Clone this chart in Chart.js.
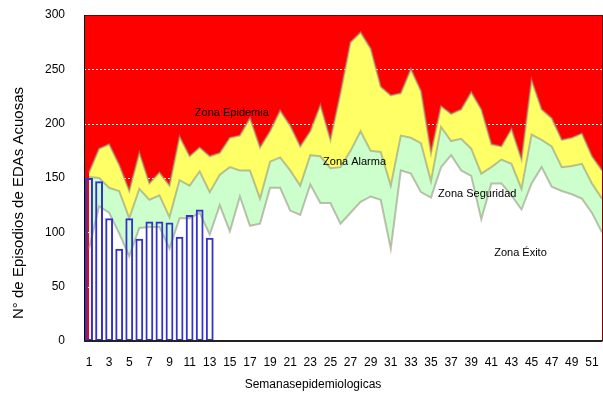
<!DOCTYPE html>
<html>
<head>
<meta charset="utf-8">
<script src="https://cdn.jsdelivr.net/npm/chart.js@4.4.0/dist/chart.umd.min.js"></script>
<style>
  html, body { margin: 0; padding: 0; background: #fff; overflow: hidden; }
  #wrap { width: 603px; height: 400px; overflow: hidden; }
  #inner { width: 607px; height: 400px; }
</style>
</head>
<body>
<div id="wrap"><div id="inner"><canvas id="myChart"></canvas></div></div>
<script>
// semanas epidemiologicas
const weeks = ['1', '2', '3', '4', '5', '6', '7', '8', '9', '10', '11', '12', '13',
  '14', '15', '16', '17', '18', '19', '20', '21', '22', '23', '24', '25', '26',
  '27', '28', '29', '30', '31', '32', '33', '34', '35', '36', '37', '38', '39',
  '40', '41', '42', '43', '44', '45', '46', '47', '48', '49', '50', '51', '52'];

// casos de la semana (barras)
const cases = [150, 147, 113, 85, 113, 94, 110, 110, 109, 96, 116, 121, 95];

// limites del canal endemico
const successLine = [85, 124, 118, 99, 78, 104, 105, 105, 85, 113, 113, 118, 98,
  125, 101, 133, 106, 108, 141, 141, 120, 116, 144, 127, 127, 108,
  118, 128, 133, 130, 85, 157, 154, 137, 132, 160, 171, 157, 152,
  112, 145, 145, 134, 121, 145, 160, 142, 138, 135, 131, 118, 100];
const securityLine = [151, 150, 141, 138, 113, 140, 130, 134, 114, 148, 143, 156, 137,
  153, 160, 157, 157, 131, 165, 169, 157, 143, 171, 170, 159, 160,
  175, 193, 175, 174, 143, 189, 187, 182, 147, 197, 184, 186, 177,
  154, 160, 167, 163, 140, 190, 185, 179, 160, 161, 163, 145, 131];
const alarmLine = [155, 177, 181, 162, 138, 173, 145, 155, 143, 188, 170, 178, 170,
  173, 187, 189, 205, 178, 193, 212, 198, 179, 193, 217, 185, 228,
  275, 284, 269, 234, 226, 228, 250, 230, 173, 216, 209, 213, 229,
  213, 181, 179, 195, 167, 240, 213, 205, 185, 187, 191, 170, 157];

const yTicks = [0, 50, 100, 150, 200, 250, 300];

const zoneNames = ['Zona Epidemia', 'Zona Alarma', 'Zona Seguridad', 'Zona Éxito'];
const zoneWeeks = [14.2, 26.4, 38.6, 42.9];
const zoneValues = [210, 165, 135, 81];

const FONT = "'Liberation Sans', Arial, sans-serif";
const VISIBLE_W = 603; // ancho de la ventana; el area de trazado sigue un poco mas alla

const canalPlugin = {
  id: 'canal',
  beforeDraw(chart) {
    const { ctx, chartArea: a } = chart;
    ctx.save();
    ctx.fillStyle = '#ff0000';
    ctx.fillRect(a.left, a.top, a.right - a.left, a.bottom - a.top);
    ctx.restore();
  },
  beforeDatasetsDraw(chart) {
    const { ctx, chartArea: a, scales: { y } } = chart;
    ctx.save();
    ctx.strokeStyle = '#ffffff';
    ctx.lineWidth = 1;
    ctx.setLineDash([2, 2]);
    yTicks.forEach(t => {
      const py = Math.round(y.getPixelForValue(t)) + 0.5;
      ctx.beginPath();
      ctx.moveTo(a.left, py);
      ctx.lineTo(a.right, py);
      ctx.stroke();
    });
    ctx.restore();
  },
  afterDatasetsDraw(chart) {
    const { ctx, chartArea: a, scales: { x, y } } = chart;
    const right = Math.min(a.right, VISIBLE_W) - 0.5;
    ctx.save();
    // marco
    ctx.strokeStyle = '#7a0000';
    ctx.lineWidth = 1;
    ctx.beginPath();
    ctx.moveTo(a.left, a.top + 0.5);
    ctx.lineTo(right, a.top + 0.5);
    ctx.lineTo(right, a.bottom);
    ctx.stroke();
    ctx.strokeStyle = '#000';
    ctx.beginPath();
    ctx.moveTo(a.left + 0.5, a.top);
    ctx.lineTo(a.left + 0.5, a.bottom);
    ctx.stroke();
    ctx.lineWidth = 2;
    ctx.strokeStyle = '#222';
    ctx.beginPath();
    ctx.moveTo(a.left, a.bottom);
    ctx.lineTo(right, a.bottom);
    ctx.stroke();

    // nombres de zonas
    ctx.fillStyle = '#000';
    ctx.font = '11px ' + FONT;
    ctx.textAlign = 'center';
    ctx.textBaseline = 'middle';
    zoneNames.forEach((name, i) => {
      ctx.fillText(name, x.getPixelForValue(zoneWeeks[i]), y.getPixelForValue(zoneValues[i]));
    });

    // titulos de ejes
    ctx.font = '12px ' + FONT;
    ctx.fillText('Semanasepidemiologicas', 313, 385);
    ctx.translate(19, 203);
    ctx.rotate(-Math.PI / 2);
    ctx.font = '15px ' + FONT;
    ctx.fillText('N° de Episodios de EDAs Acuosas', 0, 0);
    ctx.restore();
  }
};

const lineStyle = {
  type: 'line',
  fill: 'origin',
  borderColor: 'rgba(150,150,130,0.6)',
  borderWidth: 2,
  pointRadius: 0,
  tension: 0
};

new Chart(document.getElementById('myChart'), {
  type: 'bar',
  data: {
    labels: weeks,
    datasets: [
      {
        type: 'bar',
        data: cases,
        backgroundColor: 'rgba(0,0,0,0)',
        borderColor: '#3333cc',
        borderWidth: 2,
        borderSkipped: false,
        barPercentage: 0.78,
        categoryPercentage: 1
      },
      Object.assign({ data: successLine, backgroundColor: '#ffffff' }, lineStyle),
      Object.assign({ data: securityLine, backgroundColor: '#ccffcc' }, lineStyle),
      Object.assign({ data: alarmLine, backgroundColor: '#ffff66' }, lineStyle)
    ]
  },
  options: {
    responsive: true,
    maintainAspectRatio: false,
    animation: false,
    layout: { padding: { top: 15, right: 0, left: 0, bottom: 0 } },
    plugins: {
      legend: { display: false },
      tooltip: { enabled: false }
    },
    scales: {
      x: {
        grid: { display: false },
        border: { display: false },
        ticks: {
          autoSkip: false,
          maxRotation: 0,
          padding: 6,
          color: '#000',
          font: { family: FONT, size: 12 },
          callback: (v, i) => (i % 2 === 0 ? weeks[i] : '')
        },
        afterFit: s => { s.height = 59; s.paddingLeft = 0; s.paddingRight = 0; }
      },
      y: {
        min: 0,
        max: 300,
        grid: { display: false },
        border: { display: false },
        ticks: {
          stepSize: 50,
          padding: 11,
          color: '#000',
          font: { family: FONT, size: 12 }
        },
        afterFit: s => { s.width = 84; s.paddingTop = 0; s.paddingBottom = 0; }
      }
    }
  },
  plugins: [canalPlugin]
});
</script>
</body>
</html>
